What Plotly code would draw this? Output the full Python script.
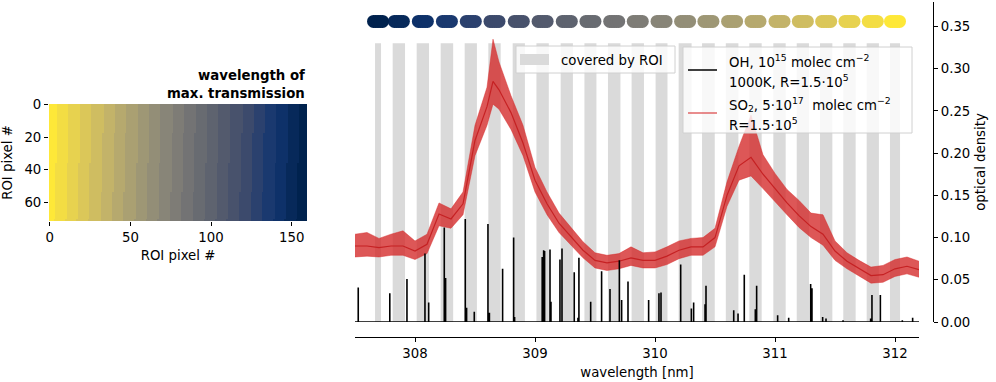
import numpy as np
import plotly.graph_objects as go

W, H = 996, 382
def px(x):
    return x / W
def py(y):
    return 1 - y / H

# ---------------- data ----------------
WL_MIN, WL_MAX = 307.5, 312.2
OD_MAX = 0.379

# wavelength ranges covered by the ROI bands (nm)
roi_lo = [307.667, 307.814, 308.014, 308.214, 308.414, 308.611, 308.814, 309.012,
          309.214, 309.412, 309.608, 309.805, 310.005, 310.197, 310.392, 310.590,
          310.786, 310.986, 311.181, 311.375, 311.569, 311.764, 311.958]
roi_hi = [307.717, 307.917, 308.117, 308.318, 308.516, 308.714, 308.916, 309.115,
          309.316, 309.512, 309.712, 309.908, 310.104, 310.305, 310.498, 310.695,
          310.889, 311.089, 311.283, 311.478, 311.672, 311.866, 312.042]
roi_top = 0.33      # top of the shaded bands
dot_level = 0.356   # level of the colour markers

# SO2 optical density (centre and noise envelope)
so2_wl = [307.5, 307.6, 307.7, 307.8, 307.9, 308.0, 308.1, 308.2, 308.3, 308.4, 308.5,
          308.6, 308.65, 308.7, 308.8, 308.9, 309.0, 309.1, 309.2, 309.3, 309.4, 309.5,
          309.6, 309.7, 309.8, 309.9, 310.0, 310.1, 310.2, 310.3, 310.4, 310.5, 310.6,
          310.7, 310.8, 310.9, 311.0, 311.1, 311.2, 311.3, 311.4, 311.5, 311.6, 311.7,
          311.8, 311.9, 312.0, 312.1, 312.2]
so2_od = [0.090, 0.090, 0.088, 0.090, 0.090, 0.084, 0.092, 0.128, 0.122, 0.140, 0.215,
          0.255, 0.285, 0.275, 0.248, 0.212, 0.168, 0.140, 0.117, 0.101, 0.085, 0.073,
          0.070, 0.072, 0.076, 0.073, 0.073, 0.078, 0.085, 0.089, 0.089, 0.100, 0.150,
          0.185, 0.195, 0.175, 0.158, 0.141, 0.126, 0.113, 0.104, 0.084, 0.072, 0.063,
          0.055, 0.056, 0.063, 0.066, 0.062]
so2_lo = [0.077, 0.078, 0.077, 0.079, 0.079, 0.074, 0.081, 0.114, 0.111, 0.127, 0.197,
          0.233, 0.258, 0.252, 0.228, 0.197, 0.154, 0.127, 0.106, 0.091, 0.076, 0.064,
          0.061, 0.063, 0.067, 0.064, 0.064, 0.068, 0.075, 0.079, 0.079, 0.089, 0.137,
          0.168, 0.173, 0.158, 0.142, 0.127, 0.112, 0.100, 0.091, 0.073, 0.063, 0.054,
          0.046, 0.047, 0.054, 0.057, 0.053]
so2_hi = [0.104, 0.106, 0.099, 0.104, 0.108, 0.096, 0.104, 0.141, 0.134, 0.154, 0.233,
          0.278, 0.335, 0.308, 0.268, 0.233, 0.183, 0.154, 0.129, 0.112, 0.095, 0.082,
          0.079, 0.081, 0.089, 0.082, 0.083, 0.089, 0.096, 0.099, 0.100, 0.111, 0.166,
          0.208, 0.245, 0.198, 0.176, 0.157, 0.144, 0.129, 0.127, 0.096, 0.082, 0.073,
          0.065, 0.067, 0.074, 0.077, 0.072]

# OH line positions and peak optical densities
oh_wl = [307.527, 307.790, 307.933, 308.083, 308.114, 308.244, 308.255, 308.419, 308.430,
         308.494, 308.608, 308.620, 308.730, 308.822, 308.830, 309.060, 309.072, 309.080,
         309.125, 309.133, 309.208, 309.225, 309.327, 309.358, 309.366, 309.464, 309.555,
         309.625, 309.703, 309.722, 309.775, 309.947, 310.033, 310.050, 310.214, 310.303,
         310.322, 310.417, 310.425, 310.656, 310.692, 310.744, 310.836, 310.847, 311.022,
         311.114, 311.297, 311.308, 311.397, 311.425, 311.567, 311.797, 311.808, 311.878,
         312.061, 312.147]
oh_od = [0.041, 0.034, 0.051, 0.081, 0.023, 0.112, 0.052, 0.122, 0.017,
         0.012, 0.116, 0.011, 0.063, 0.100, 0.006, 0.077, 0.085, 0.084,
         0.086, 0.024, 0.074, 0.087, 0.059, 0.005, 0.076, 0.024, 0.060,
         0.039, 0.073, 0.026, 0.048, 0.026, 0.034, 0.035, 0.068, 0.016,
         0.023, 0.021, 0.043, 0.014, 0.010, 0.056, 0.015, 0.043, 0.008,
         0.005, 0.045, 0.040, 0.006, 0.004, 0.002, 0.004, 0.032, 0.032,
         0.002, 0.005]

# ROI image: band boundaries (ROI pixel) along the first and last row
roi_cols, roi_rows = 160, 72
bound_top = [5, 12, 19, 26, 33.5, 40.5, 47.5, 55, 62, 69, 76.5, 83.5, 90.5, 98,
             105, 112, 119.5, 126.5, 133.5, 141, 148, 155]
bound_bot = [3, 10, 17, 24, 31.5, 38.5, 45.5, 53, 60, 67, 74.5, 81.5, 88.5, 96,
             103, 110, 117.5, 124.5, 131.5, 139, 146, 153]

x_ticks_main = [308, 309, 310, 311, 312]
y_ticks_main = [0.0, 0.05, 0.10, 0.15, 0.20, 0.25, 0.30, 0.35]
x_ticks_roi = [0, 50, 100, 150]
y_ticks_roi = [0, 20, 40, 60]

# ---------------- derived ----------------
centers = [(a + b) / 2 for a, b in zip(roi_lo, roi_hi)]
widths = [b - a for a, b in zip(roi_lo, roi_hi)]
band_wl_left_to_right = centers[::-1]   # ROI pixel 0 = longest wavelength
zmin, zmax = min(centers), max(centers)

Z = []
for r in range(roi_rows):
    t = r / (roi_rows - 1)
    bounds = [a + (b - a) * t for a, b in zip(bound_top, bound_bot)]
    row = []
    for c in range(roi_cols):
        k = sum(1 for bd in bounds if c >= bd)
        row.append(band_wl_left_to_right[k])
    Z.append(row)

FONT = "DejaVu Sans"
FS = 13.3

fig = go.Figure()

# ROI image
fig.add_trace(go.Heatmap(z=Z, x=list(range(roi_cols)), y=list(range(roi_rows)),
                         colorscale="cividis", zmin=zmin, zmax=zmax, showscale=False,
                         xaxis="x2", yaxis="y2", hoverinfo="skip"))

# covered-by-ROI bands
fig.add_trace(go.Bar(x=centers, y=[roi_top] * len(centers), base=0, width=widths,
                     marker=dict(color="#dadada", line=dict(width=0)),
                     showlegend=False, hoverinfo="skip"))

# SO2 envelope and centre
fig.add_trace(go.Scatter(x=so2_wl, y=so2_lo, mode="lines", line=dict(width=0.8, color="rgba(214,39,40,0.55)"),
                         showlegend=False, hoverinfo="skip"))
fig.add_trace(go.Scatter(x=so2_wl, y=so2_hi, mode="lines", line=dict(width=0.8, color="rgba(214,39,40,0.55)"),
                         fill="tonexty", fillcolor="rgba(212,40,40,0.78)",
                         showlegend=False, hoverinfo="skip"))
fig.add_trace(go.Scatter(x=so2_wl, y=so2_od, mode="lines",
                         line=dict(width=1.2, color="rgba(195,28,30,0.9)"),
                         showlegend=False, hoverinfo="skip"))

# OH stick spectrum
ohx, ohy = [WL_MIN], [0.0]
for w, h in zip(oh_wl, oh_od):
    ohx += [w, w, w]
    ohy += [0.0, h, 0.0]
ohx.append(WL_MAX)
ohy.append(0.0)
fig.add_trace(go.Scatter(x=ohx, y=ohy, mode="lines", line=dict(color="black", width=1.6),
                         showlegend=False, hoverinfo="skip"))

# colour markers (stadium shaped: overlapping circles)
offs_px = [-4.5, -2.25, 0, 2.25, 4.5]
dx, dy, dc = [], [], []
nm_per_px = (WL_MAX - WL_MIN) / (919 - 355)
for o in offs_px:
    for c in centers:
        dx.append(c + o * nm_per_px)
        dy.append(dot_level)
        dc.append(c)
fig.add_trace(go.Scatter(x=dx, y=dy, mode="markers",
                         marker=dict(size=13, color=dc, colorscale="cividis", cmin=zmin, cmax=zmax,
                                     line=dict(width=0)),
                         showlegend=False, hoverinfo="skip", cliponaxis=False))

axis_font = dict(family=FONT, size=FS, color="black")

fig.update_layout(
    width=W, height=H, margin=dict(l=0, r=0, t=0, b=0),
    paper_bgcolor="white", plot_bgcolor="rgba(0,0,0,0)",
    font=axis_font, showlegend=False, barmode="overlay",
    xaxis=dict(domain=[px(355), px(919)], anchor="free", position=py(337),
               range=[WL_MIN, WL_MAX], tickvals=x_ticks_main, ticktext=[str(v) for v in x_ticks_main],
               ticks="outside", ticklen=4, tickwidth=1, tickcolor="black",
               showline=True, linecolor="black", linewidth=1.1, showgrid=False, zeroline=False,
               title=dict(text="wavelength [nm]", standoff=7, font=axis_font),
               tickfont=axis_font, automargin=False),
    yaxis=dict(domain=[py(322), py(2)], anchor="free", position=px(933), side="right",
               range=[0, OD_MAX], tickvals=y_ticks_main, tickformat=".2f",
               ticks="outside", ticklen=4, tickwidth=1, tickcolor="black",
               showline=True, linecolor="black", linewidth=1.1, showgrid=False, zeroline=False,
               title=dict(text="optical density", standoff=6, font=axis_font),
               tickfont=axis_font, automargin=False),
    xaxis2=dict(domain=[px(49), px(307)], anchor="y2", range=[-0.5, roi_cols - 0.5],
                tickvals=x_ticks_roi, ticks="outside", ticklen=4, tickcolor="black",
                showline=False, showgrid=False, zeroline=False,
                title=dict(text="ROI pixel #", standoff=6, font=axis_font),
                tickfont=axis_font, automargin=False),
    yaxis2=dict(domain=[py(221), py(104)], anchor="x2", range=[roi_rows - 0.5, -0.5],
                tickvals=y_ticks_roi, ticks="outside", ticklen=4, tickcolor="black",
                showline=False, showgrid=False, zeroline=False,
                title=dict(text="ROI pixel #", standoff=8, font=axis_font),
                tickfont=axis_font, automargin=False),
)

shapes = []
ann = []
# legend 1
shapes.append(dict(type="rect", xref="paper", yref="paper", x0=px(516), x1=px(675), y0=py(73), y1=py(46),
                   fillcolor="rgba(255,255,255,0.8)", line=dict(color="#d0d0d0", width=1), layer="above"))
shapes.append(dict(type="rect", xref="paper", yref="paper", x0=px(520), x1=px(549), y0=py(65), y1=py(54),
                   fillcolor="#dadada", line=dict(width=0), layer="above"))
ann.append(dict(text="covered by ROI", x=px(559), y=py(60), xref="paper", yref="paper",
                xanchor="left", yanchor="middle", showarrow=False, font=axis_font))
# legend 2
shapes.append(dict(type="rect", xref="paper", yref="paper", x0=px(683), x1=px(912), y0=py(133), y1=py(47),
                   fillcolor="rgba(255,255,255,0.8)", line=dict(color="#d0d0d0", width=1), layer="above"))
shapes.append(dict(type="line", xref="paper", yref="paper", x0=px(688), x1=px(717), y0=py(70), y1=py(70),
                   line=dict(color="black", width=1.5), layer="above"))
shapes.append(dict(type="line", xref="paper", yref="paper", x0=px(688), x1=px(717), y0=py(113), y1=py(113),
                   line=dict(color="rgba(214,39,40,0.7)", width=1.5), layer="above"))
legend_lines = [
    ("OH, 10<sup>15</sup> molec cm<sup>−2</sup>", 61),
    ("1000K, R=1.5·10<sup>5</sup>", 81),
    ("SO<sub>2</sub>, 5·10<sup>17</sup>  molec cm<sup>−2</sup>", 104),
    ("R=1.5·10<sup>5</sup>", 124),
]
for t, yy in legend_lines:
    ann.append(dict(text=t, x=px(727), y=py(yy), xref="paper", yref="paper",
                    xanchor="left", yanchor="middle", showarrow=False, font=axis_font))
# ROI image title
ann.append(dict(text="<b>wavelength of</b>", x=px(307), y=py(75), xref="paper", yref="paper",
                xanchor="right", yanchor="middle", showarrow=False, font=axis_font))
ann.append(dict(text="<b>max. transmission</b>", x=px(307), y=py(93), xref="paper", yref="paper",
                xanchor="right", yanchor="middle", showarrow=False, font=axis_font))

fig.update_layout(shapes=shapes, annotations=ann)
fig.write_html("out.html", config={"displayModeBar": False},
               post_script="document.body.style.margin='0';document.body.style.overflow='hidden';")
